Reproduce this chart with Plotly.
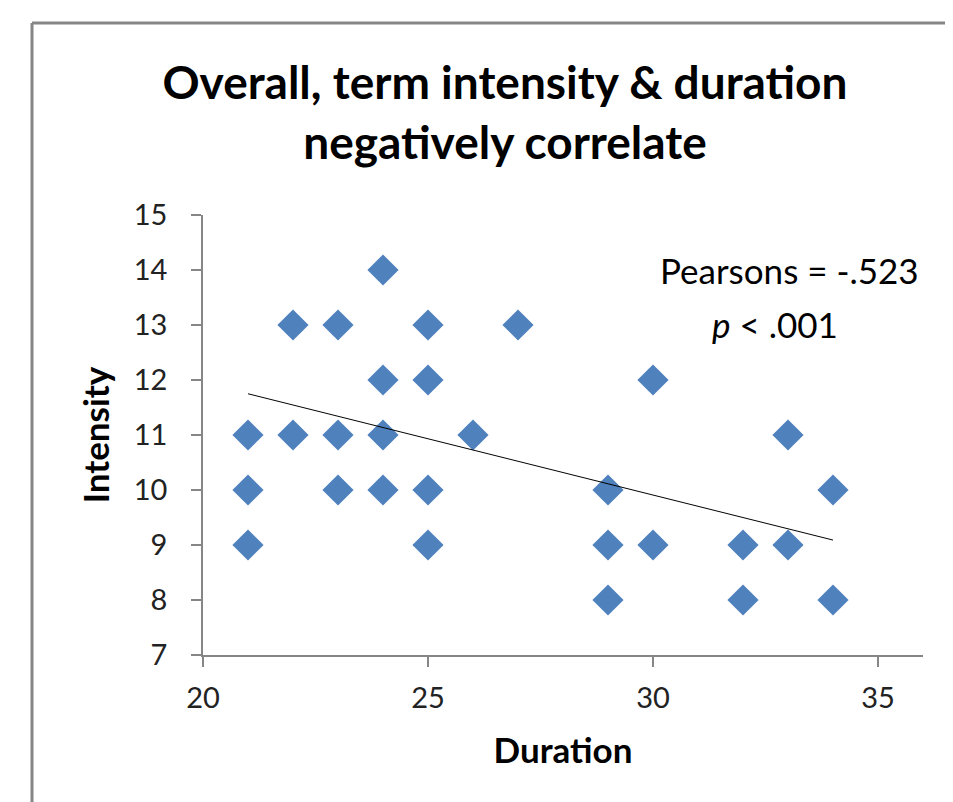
import plotly.graph_objects as go

duration = [21, 21, 21, 22, 22, 23, 23, 23, 24, 24, 24, 24, 25, 25, 25, 25,
            26, 27, 29, 29, 29, 30, 30, 32, 32, 33, 33, 34, 34]
intensity = [11, 10, 9, 13, 11, 13, 11, 10, 14, 12, 11, 10, 13, 12, 10, 9,
             11, 13, 10, 9, 8, 12, 9, 9, 8, 11, 9, 10, 8]
# trend line end points
trend_x = [21, 34]
trend_y = [11.75, 9.09]
x_ticks = [20, 25, 30, 35]
y_ticks = [7, 8, 9, 10, 11, 12, 13, 14, 15]

title_text = "Overall, term intensity & duration<br>negatively correlate"
stat_lines = ["Pearsons = -.523", "<i>p</i> < .001"]

FONT = "Lato, 'Open Sans', sans-serif"
OFF = 8  # default page body margin
W, H = 953 - OFF, 802 - OFF
L, T = 203 - OFF, 215 - OFF
R = W - (923 - OFF)
B = H - (655 - OFF)
pw, ph = W - L - R, H - T - B

fig = go.Figure()
fig.add_trace(go.Scatter(x=duration, y=intensity, mode="markers",
                         marker=dict(symbol="diamond", size=24, color="#4F81BD",
                                     line=dict(width=0)),
                         showlegend=False, hoverinfo="x+y"))
fig.add_trace(go.Scatter(x=trend_x, y=trend_y, mode="lines",
                         line=dict(color="black", width=1),
                         showlegend=False, hoverinfo="skip"))

axis_common = dict(showgrid=False, zeroline=False, showline=True,
                   linecolor="#868686", linewidth=1.5, ticks="outside",
                   ticklen=10, tickcolor="#868686", tickwidth=1.5,
                   tickfont=dict(family=FONT, size=29, color="#222"))
fig.update_xaxes(range=[20, 36], tickvals=x_ticks, **axis_common,
                 ticklabelstandoff=6,
                 title=dict(text="<b>Duration</b>", standoff=26,
                            font=dict(family=FONT, size=35, color="black")))
fig.update_yaxes(range=[7, 15], tickvals=y_ticks, **axis_common,
                 ticklabelstandoff=18,
                 title=dict(text="<b>Intensity</b>", standoff=14,
                            font=dict(family=FONT, size=35, color="black")))

fig.add_annotation(xref="x", yref="y", x=33.03, y=14.0, text=stat_lines[0],
                   showarrow=False, font=dict(family=FONT, size=35, color="black"))
fig.add_annotation(xref="x", yref="y", x=32.72, y=13.02, text=stat_lines[1],
                   showarrow=False, font=dict(family=FONT, size=35, color="black"))

# outer chart border (cropped at right and bottom)
bx0 = (32 - OFF - L) / pw
by1 = 1 + (T - (23 - OFF)) / ph
fig.add_shape(type="line", xref="paper", yref="paper", x0=bx0, x1=bx0,
              y0=by1, y1=-1, line=dict(color="#868686", width=3))
fig.add_shape(type="line", xref="paper", yref="paper", x0=bx0, x1=2,
              y0=by1, y1=by1, line=dict(color="#868686", width=3))

fig.update_layout(
    width=W, height=H,
    margin=dict(l=L, r=R, t=T, b=B),
    paper_bgcolor="white", plot_bgcolor="white",
    title=dict(text="<b>" + title_text + "</b>", x=(505 - OFF) / W, xanchor="center",
               y=1 - (99 - OFF) / H, yanchor="middle",
               font=dict(family=FONT, size=46, color="black")),
)

fig.write_html("out.html")
